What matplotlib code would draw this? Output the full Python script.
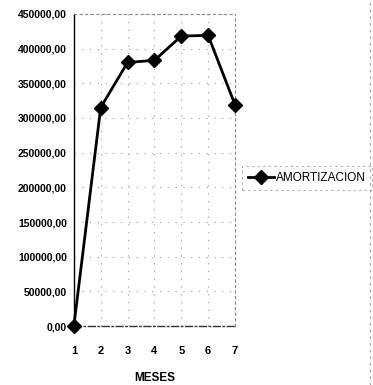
import matplotlib.pyplot as plt
from matplotlib.ticker import FuncFormatter

# Amortización mensual
meses = [1, 2, 3, 4, 5, 6, 7]
amortizacion = [0, 315000, 380000, 383000, 418000, 419000, 319000]
serie = "AMORTIZACION"

plt.rcParams['font.family'] = ['Liberation Sans', 'DejaVu Sans']
plt.rcParams['font.stretch'] = 'condensed'

fig = plt.figure(figsize=(3.73, 3.85), dpi=100)
ax = fig.add_axes([0.198, 0.153, 0.432, 0.811])

ax.plot(meses, amortizacion, color='black', lw=2, marker='D', ms=7,
        label=serie, clip_on=False, zorder=3)

ax.set_xlim(1, 7)
ax.set_ylim(0, 450000)
ax.set_xticks(meses)
ax.set_yticks(range(0, 450001, 50000))
ax.yaxis.set_major_formatter(FuncFormatter(lambda v, p: f"{v:.2f}".replace('.', ',')))
ax.tick_params(axis='y', length=0, labelsize=7.5, pad=5)
ax.tick_params(axis='x', length=0, labelsize=8, pad=14)
for lab in ax.get_xticklabels() + ax.get_yticklabels():
    lab.set_fontweight('bold')

ax.grid(True, ls=(0, (1, 6)), color='#999999', lw=0.8)
for side in ['top', 'right']:
    ax.spines[side].set_linestyle((0, (2, 3)))
    ax.spines[side].set_color('#888888')
    ax.spines[side].set_linewidth(0.8)
ax.spines['left'].set_linestyle((0, (3, 1)))
ax.spines['left'].set_linewidth(1)
ax.spines['bottom'].set_linestyle((0, (5, 2, 1, 2)))
ax.spines['bottom'].set_color('#333333')
ax.spines['bottom'].set_linewidth(1)

ax.set_xlabel("MESES", fontsize=8.5, fontweight='bold', labelpad=12)

leg = ax.legend(loc='center left', bbox_to_anchor=(1.02, 0.474), frameon=True,
                fancybox=False, fontsize=8.5, handlelength=2.2,
                handletextpad=0.2, borderpad=0.5, borderaxespad=0.3)
leg.get_frame().set_edgecolor('#999999')
leg.get_frame().set_linestyle((0, (2, 3)))
leg.get_frame().set_linewidth(0.8)

# borde exterior derecho
fig.add_artist(plt.Line2D([0.992, 0.992], [0.0, 1.0], transform=fig.transFigure,
                          color='#999999', lw=0.8, ls=(0, (2, 4))))

fig.savefig("out.png", dpi=100)
